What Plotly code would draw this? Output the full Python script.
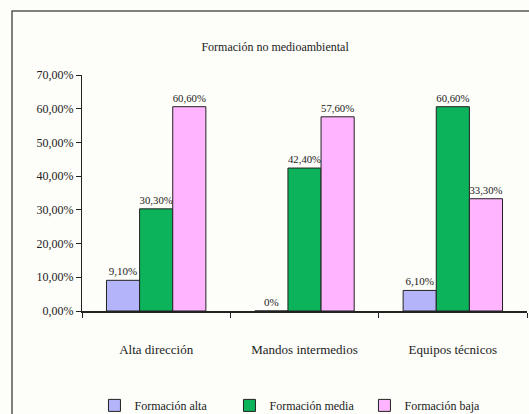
import plotly.graph_objects as go

categories = ["Alta dirección", "Mandos intermedios", "Equipos técnicos"]
series_names = ["Formación alta", "Formación media", "Formación baja"]
alta = [0.091, 0.0, 0.061]
media = [0.303, 0.424, 0.606]
baja = [0.606, 0.576, 0.333]
labels_alta = ["9,10%", "0%", "6,10%"]
labels_media = ["30,30%", "42,40%", "60,60%"]
labels_baja = ["60,60%", "57,60%", "33,30%"]
colors = ["#B4B4FA", "#0DB35A", "#FFB4FF"]
tick_vals = [0, 0.1, 0.2, 0.3, 0.4, 0.5, 0.6, 0.7]

FONT = "Liberation Serif, Times New Roman, serif"

fig = go.Figure()
for name, vals, labs, col in zip(series_names, [alta, media, baja],
                                 [labels_alta, labels_media, labels_baja], colors):
    fig.add_trace(go.Bar(
        x=categories, y=vals, name=name, text=labs,
        textposition="outside", cliponaxis=False,
        textfont=dict(family=FONT, size=11, color="#222"),
        marker=dict(color=col, line=dict(color="#222", width=1)),
    ))

fig.update_layout(
    width=529, height=414,
    margin=dict(l=82, r=2, t=75, b=103, autoexpand=False),
    paper_bgcolor="#FDFDF9", plot_bgcolor="rgba(0,0,0,0)",
    separators=",.",
    barmode="group", bargap=0.33, bargroupgap=0,
    font=dict(family=FONT, size=12, color="#222"),
    title=dict(text="Formación no medioambiental", x=0.52, xanchor="center",
               y=1 - 47 / 414, yanchor="middle",
               font=dict(family=FONT, size=12, color="#222")),
    showlegend=True,
    legend=dict(orientation="h", x=0.028, xanchor="left", y=-0.4, yanchor="middle",
                font=dict(family=FONT, size=12, color="#222"),
                bgcolor="rgba(0,0,0,0)", itemwidth=30, traceorder="normal",
                entrywidth=90, entrywidthmode="pixels"),
    yaxis=dict(range=[0, 0.7], tickvals=tick_vals, tickformat=".2%",
               showgrid=False, zeroline=False, showline=True, linecolor="#222",
               linewidth=1, ticks="outside", ticklen=5, tickcolor="#222",
               tickfont=dict(family=FONT, size=12, color="#222")),
    xaxis=dict(showgrid=False, showline=True, linecolor="#222", linewidth=1.5,
               ticks="outside", tickson="boundaries", ticklen=5, tickcolor="#222",
               ticklabelstandoff=26,
               tickfont=dict(family=FONT, size=13, color="#222")),
    shapes=[dict(type="rect", xref="paper", yref="paper",
                 x0=(12 - 82) / 445, x1=1.2, y0=-2, y1=1 + (75 - 11) / 236,
                 line=dict(color="#555", width=1.5), layer="below")],
)

fig.write_html("out.html")
